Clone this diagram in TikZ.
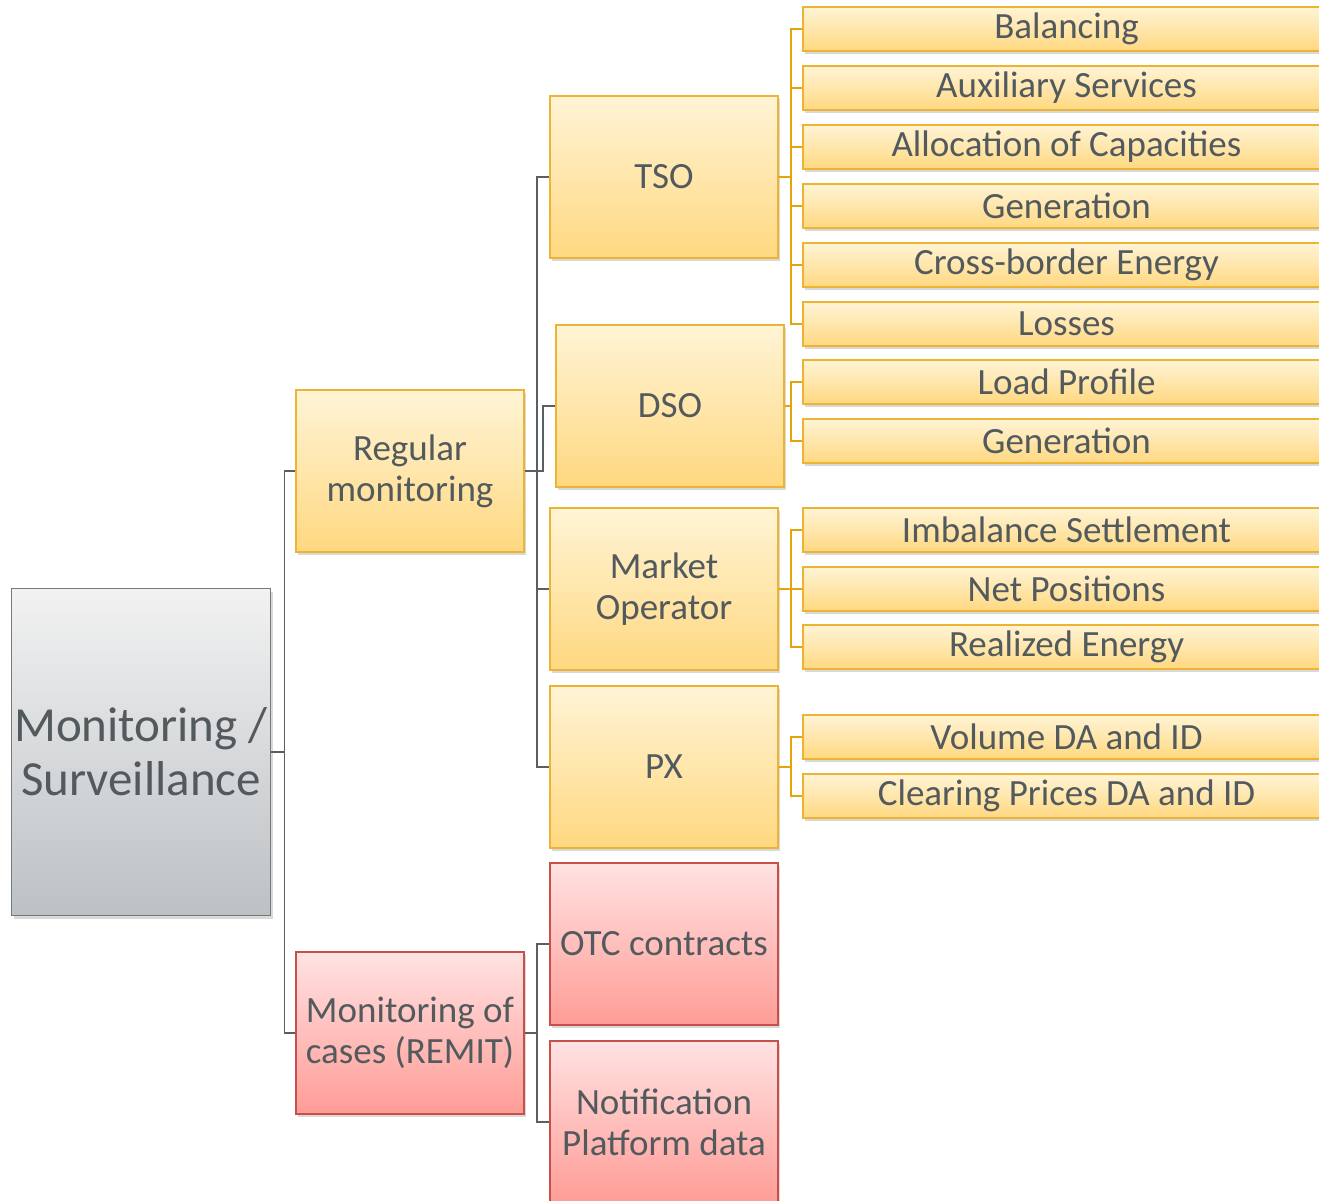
\documentclass[tikz,border=0pt]{standalone}
\usepackage{fontspec}
\setmainfont{Carlito}
\usetikzlibrary{shadows}
\definecolor{txt}{RGB}{82,90,94}
\definecolor{ytop}{RGB}{255,244,214}
\definecolor{ybot}{RGB}{255,216,128}
\definecolor{yborder}{RGB}{236,180,50}
\definecolor{rtop}{RGB}{255,226,226}
\definecolor{rbot}{RGB}{255,156,150}
\definecolor{rborder}{RGB}{200,80,75}
\definecolor{gtop}{RGB}{242,242,242}
\definecolor{gbot}{RGB}{188,193,197}
\definecolor{gborder}{RGB}{120,120,120}
\definecolor{conngray}{RGB}{90,95,99}
\definecolor{conngold}{RGB}{229,164,10}
\tikzset{
  box/.style={rectangle, inner sep=0pt, align=center, text=txt, line width=1.8pt,
    drop shadow={opacity=0.3, shadow xshift=2pt, shadow yshift=-3pt},
    font=\fontsize{37}{41}\selectfont},
  ybox/.style={box, draw=yborder, top color=ytop, bottom color=ybot},
  rbox/.style={box, draw=rborder, top color=rtop, bottom color=rbot},
  gbox/.style={box, draw=gborder, top color=gtop, bottom color=gbot,
    font=\fontsize{49}{54}\selectfont},
  midbox/.style={minimum width=228pt, minimum height=162pt},
  leafbox/.style={ybox, minimum width=527pt, minimum height=44pt},
  conn/.style={draw=conngray, line width=1.5pt},
  gconn/.style={draw=conngold, line width=2pt},
}
\begin{document}
\begin{tikzpicture}[x=1pt,y=-1pt]
\useasboundingbox (0,0) rectangle (1319,1200);
\clip (0,0) rectangle (1319,1200);
% root and level 1
\node[gbox, minimum width=259pt, minimum height=327pt] (root) at (141,752) {Monitoring /\\Surveillance};
\node[ybox, midbox] (reg) at (410,471) {Regular\\monitoring};
\node[rbox, midbox] (remit) at (410,1033) {Monitoring of\\cases (REMIT)};
% level 2
\node[ybox, midbox] (tso) at (664,177) {TSO};
\node[ybox, midbox] (dso) at (670,406) {DSO};
\node[ybox, midbox] (mo) at (664,589) {Market\\Operator};
\node[ybox, midbox] (px) at (664,767) {PX};
\node[rbox, midbox] (otc) at (664,944) {OTC contracts};
\node[rbox, midbox] (np) at (664,1122) {Notification\\Platform data};
% leaves
\node[leafbox] (t1) at (1066.5,29) {Balancing};
\node[leafbox] (t2) at (1066.5,88) {Auxiliary Services};
\node[leafbox] (t3) at (1066.5,147) {Allocation of Capacities};
\node[leafbox] (t4) at (1066.5,206) {Generation};
\node[leafbox] (t5) at (1066.5,265) {Cross-border Energy};
\node[leafbox] (t6) at (1066.5,324) {Losses};
\node[leafbox] (d1) at (1066.5,382) {Load Profile};
\node[leafbox] (d2) at (1066.5,441) {Generation};
\node[leafbox] (m1) at (1066.5,530) {Imbalance Settlement};
\node[leafbox] (m2) at (1066.5,589) {Net Positions};
\node[leafbox] (m3) at (1066.5,647) {Realized Energy};
\node[leafbox] (p1) at (1066.5,737) {Volume DA and ID};
\node[leafbox] (p2) at (1066.5,796) {Clearing Prices DA and ID};
% connectors
\draw[conn] (root.east) -- ++(13,0) |- (reg.west);
\draw[conn] (root.east) -- ++(13,0) |- (remit.west);
\draw[conn] (reg.east) -- ++(12,0) |- (tso.west);
\draw[conn] (reg.east) -- ++(18,0) |- (dso.west);
\draw[conn] (reg.east) -- ++(12,0) |- (mo.west);
\draw[conn] (reg.east) -- ++(12,0) |- (px.west);
\draw[conn] (remit.east) -- ++(12,0) |- (otc.west);
\draw[conn] (remit.east) -- ++(12,0) |- (np.west);
\foreach \l in {t1,t2,t3,t4,t5,t6}{\draw[gconn] (tso.east) -- ++(12,0) |- (\l.west);}
\foreach \l in {d1,d2}{\draw[gconn] (dso.east) -- ++(6,0) |- (\l.west);}
\foreach \l in {m1,m2,m3}{\draw[gconn] (mo.east) -- ++(12,0) |- (\l.west);}
\foreach \l in {p1,p2}{\draw[gconn] (px.east) -- ++(12,0) |- (\l.west);}
\end{tikzpicture}
\end{document}
